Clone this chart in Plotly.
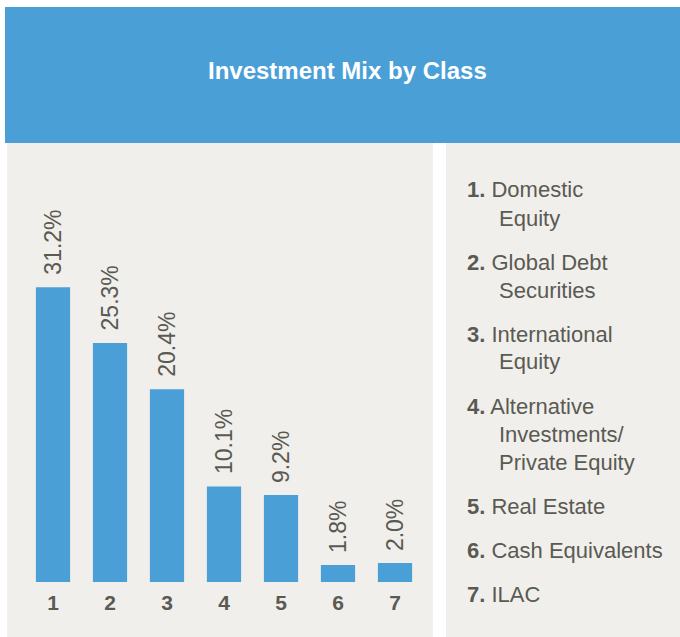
import plotly.graph_objects as go

# ---- data ----
categories = [1, 2, 3, 4, 5, 6, 7]
values = [31.2, 25.3, 20.4, 10.1, 9.2, 1.8, 2.0]
tick_labels = ["1", "2", "3", "4", "5", "6", "7"]
class_names = [
    "Domestic<br>Equity",
    "Global Debt<br>Securities",
    "International<br>Equity",
    "Alternative<br>Investments/<br>Private Equity",
    "Real Estate",
    "Cash Equivalents",
    "ILAC",
]
title_text = "Investment Mix by Class"

# ---- styling ----
W, H = 680, 637
BLUE = "#4A9FD7"
PANEL = "#F0EFEB"
TEXT = "#5A5A53"
FONT = "Liberation Sans"


def px_x(px):
    return px / W


def px_y(py):
    return (H - py) / H


fig = go.Figure()

fig.add_trace(go.Bar(
    x=categories,
    y=values,
    marker=dict(color=BLUE, line=dict(width=0)),
    width=0.6,
    hoverinfo="skip",
))

shapes = [
    dict(type="rect", xref="paper", yref="paper", layer="below",
         x0=px_x(5), x1=px_x(680), y0=px_y(143), y1=px_y(7),
         fillcolor=BLUE, line=dict(width=0)),
    dict(type="rect", xref="paper", yref="paper", layer="below",
         x0=px_x(7), x1=px_x(433), y0=px_y(637), y1=px_y(143),
         fillcolor=PANEL, line=dict(width=0)),
    dict(type="rect", xref="paper", yref="paper", layer="below",
         x0=px_x(446), x1=px_x(680), y0=px_y(637), y1=px_y(143),
         fillcolor=PANEL, line=dict(width=0)),
]

annotations = [
    dict(text=f"<b>{title_text}</b>", xref="paper", yref="paper",
         x=px_x(347), y=px_y(71), xanchor="center", yanchor="middle",
         showarrow=False, font=dict(family=FONT, size=24, color="white")),
]

# value labels above bars
for c, v in zip(categories, values):
    annotations.append(dict(
        text=f"{v:.1f}%", x=c, y=v, xref="x", yref="y",
        xanchor="center", yanchor="bottom", yshift=10,
        textangle=-90, showarrow=False,
        font=dict(family=FONT, size=23, color=TEXT),
    ))

# legend list on the right
y_line = 190
for i, name in enumerate(class_names):
    lines = name.split("<br>")
    for j, ln in enumerate(lines):
        if j == 0:
            txt = f"<b>{categories[i]}.</b> {ln}"
            x0 = 465
        else:
            txt = ln
            x0 = 497
        annotations.append(dict(
            text=txt, xref="paper", yref="paper",
            x=px_x(x0), y=px_y(y_line + 28 * j),
            xanchor="left", yanchor="middle", showarrow=False,
            font=dict(family=FONT, size=22, color=TEXT),
        ))
    y_line += 28 * (len(lines) - 1) + 44

k = 9.45  # pixels per percent
top_px = 150
base_px = 582
yr = (base_px - top_px) / k

fig.update_layout(
    width=W, height=H,
    margin=dict(l=0, r=0, t=0, b=0),
    paper_bgcolor="white",
    plot_bgcolor="rgba(0,0,0,0)",
    showlegend=False,
    shapes=shapes,
    annotations=annotations,
    xaxis=dict(
        domain=[px_x(24.5), px_x(423.5)],
        range=[0.5, 7.5],
        tickmode="array", tickvals=categories, ticktext=tick_labels,
        showgrid=False, zeroline=False, showline=False, ticks="",
        tickfont=dict(family=FONT, size=21, color=TEXT, weight="bold"),
        ticklabelstandoff=6,
        fixedrange=True,
    ),
    yaxis=dict(
        domain=[px_y(base_px), px_y(top_px)],
        range=[0, yr],
        visible=False,
        fixedrange=True,
    ),
)

fig.write_html("out.html", config={"displayModeBar": False},
               post_script="document.body.style.margin='0';")
